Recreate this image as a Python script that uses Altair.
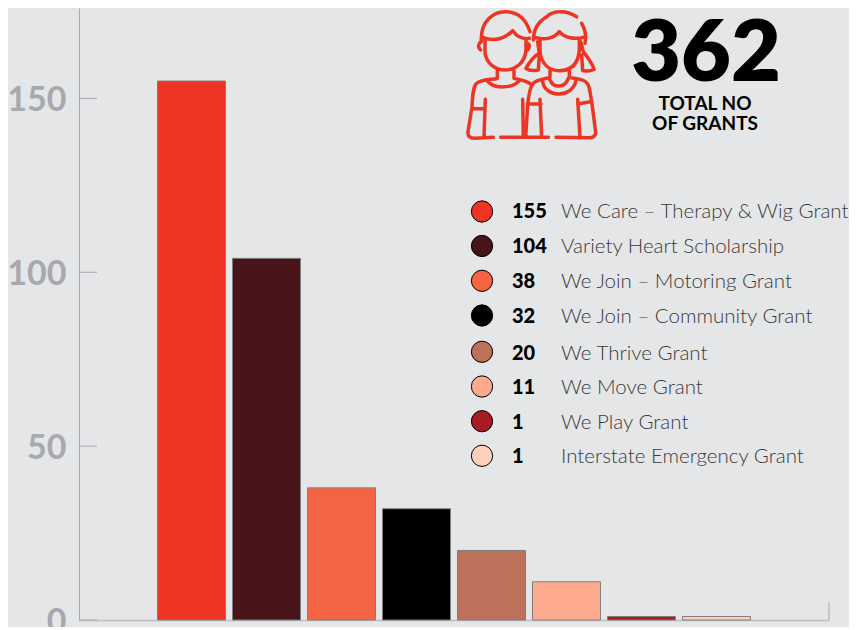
import re
import altair as alt
import pandas as pd

names = ["We Care – Therapy & Wig Grant", "Variety Heart Scholarship", "We Join – Motoring Grant",
         "We Join – Community Grant", "We Thrive Grant", "We Move Grant", "We Play Grant",
         "Interstate Emergency Grant"]
counts = [155, 104, 38, 32, 20, 11, 1, 1]
colors = ["#ee3524", "#47141a", "#f46442", "#000000", "#bd715a", "#fdaa8e", "#a51c24", "#fdd0bc"]
y_ticks = [0, 50, 100, 150]
row_y = [203.5, 238, 272.8, 307.5, 343.8, 378.5, 413.2, 447.8]
text_y = [204, 239, 273.5, 308.5, 345.5, 379.5, 414.5, 448.5]
total = ["362"]
total_caption = ["TOTAL NO", "OF GRANTS"]

BG = "#e5e6e8"
GREY = "#a7a9ac"
RED = "#ee3524"
OX, OY = 79, 8  # page offset of plot origin


def scale_path(path):
    # icon traced on a 3x grid, centred on (275, 225)
    out, i = [], 0
    for tok in re.findall(r"[A-Z]|-?[\d.]+", path):
        if tok.isalpha():
            out.append(tok)
        else:
            c = 275 if i % 2 == 0 else 225
            out.append(f"{(float(tok) - c) / 3:.2f}")
            i += 1
    return " ".join(out)


icon = scale_path(
    "M122 150 C110 140 118 128 124 125 C120 60 165 35 195 35 C225 35 255 50 270 95 "
    "M128 112 C160 125 190 120 218 92 C235 115 250 118 268 115 "
    "M135 115 L135 160 C140 190 165 210 195 210 C225 210 255 190 258 150 L258 118 "
    "M258 130 C270 130 272 145 258 152 "
    "M172 212 L172 235 C160 240 130 235 110 250 C100 260 98 280 96 320 L84 395 C82 408 90 415 105 415 L160 412 "
    "M140 240 C160 270 220 265 240 240 "
    "M222 212 L222 235 C240 240 255 240 272 252 "
    "M136 298 L132 412 M96 326 L135 326 M248 298 L250 412 M182 412 L325 412 "
    "M410 50 C380 30 340 30 320 50 C295 65 280 90 280 120 "
    "M425 70 C437 90 438 115 435 130 "
    "M285 112 C310 120 340 118 358 95 C375 115 405 118 430 112 "
    "M300 115 L300 155 C305 190 325 212 358 212 C395 212 415 190 418 150 L418 118 "
    "M293 125 L298 160 C285 165 265 190 258 205 C270 215 285 212 295 210 L298 165 "
    "M422 125 L430 155 C445 175 460 195 462 208 C450 213 440 215 428 212 L425 165 "
    "M330 212 L330 232 C320 238 295 235 280 250 C270 260 265 285 262 330 L258 395 C255 408 262 412 270 412 "
    "M308 245 C315 295 400 295 408 240 M330 240 C340 265 375 265 385 235 "
    "M388 212 L388 232 C410 238 435 235 445 255 C455 285 460 350 467 395 C468 410 455 415 445 413 L348 412 "
    "M300 298 L305 412 M262 312 L303 312 M413 298 L420 412 M413 312 L450 305"
)

df = pd.DataFrame({"name": names, "count": counts})
color_scale = alt.Scale(domain=names, range=colors)
y_scale = alt.Scale(domain=[0, 176], nice=False, zero=True)
x_domain = [" "] + names + ["  "]
y_axis = alt.Axis(values=y_ticks, ticks=False, grid=False, title=None, domainColor=GREY, domainWidth=1,
                  labelFontSize=34, labelFont="Lato", labelFontWeight=700, labelColor=GREY, labelOffset=2.5,
                  labelPadding=13, labelOverlap=False, labelBound=False, labelFlush=False)

bars = alt.Chart(df).mark_bar(stroke="#7f7f7f", strokeWidth=1).encode(
    x=alt.X("name:N", sort=x_domain,
            scale=alt.Scale(domain=x_domain, paddingInner=0.0933, paddingOuter=0.0467),
            axis=alt.Axis(labels=False, ticks=False, title=None, domainColor="#bcbec0", domainWidth=1.5)),
    y=alt.Y("count:Q", scale=y_scale, axis=y_axis),
    color=alt.Color("name:N", scale=color_scale, legend=None),
)

tick_df = pd.DataFrame({"v": y_ticks})
ticks = alt.Chart(tick_df).mark_rule(color=GREY, strokeWidth=1).encode(
    x=alt.value(0), x2=alt.value(18),
    y=alt.Y("v:Q", scale=y_scale, axis=y_axis),
)
end_tick = alt.Chart(pd.DataFrame({"a": [0], "b": [5]})).mark_rule(color="#bcbec0", strokeWidth=1.5).encode(
    x=alt.value(750),
    y=alt.Y("a:Q", scale=y_scale, axis=y_axis),
    y2="b:Q",
)

layers = [bars, ticks, end_tick]

for i, n in enumerate(names):
    row = df[df["name"] == n]
    layers.append(alt.Chart(row).mark_circle(size=452, opacity=1, stroke="#000000", strokeWidth=1).encode(
        x=alt.value(482 - OX), y=alt.value(row_y[i]),
        color=alt.Color("name:N", scale=color_scale, legend=None)))
    layers.append(alt.Chart(row).mark_text(align="left", baseline="middle", font="Lato", fontSize=20,
                                           fontWeight=900, color="#000000").encode(
        x=alt.value(512 - OX), y=alt.value(text_y[i]), text="count:Q"))
    layers.append(alt.Chart(row).mark_text(align="left", baseline="middle", font="Lato", fontSize=20.5,
                                           fontWeight=300, color="#3a3a3c").encode(
        x=alt.value(561 - OX), y=alt.value(text_y[i]), text="name:N"))

layers.append(alt.Chart(pd.DataFrame({"t": total})).mark_text(
    align="center", baseline="middle", font="Lato", fontSize=86, fontWeight=800, color="#000000").encode(
    x=alt.value(706 - OX), y=alt.value(55 - OY), text="t:N"))
for cap, yv in zip(total_caption, [96, 116]):
    layers.append(alt.Chart(pd.DataFrame({"t": [cap]})).mark_text(
        align="center", baseline="middle", font="Lato", fontSize=19, fontWeight=700, color="#000000").encode(
        x=alt.value(705 - OX), y=alt.value(yv), text="t:N"))

layers.append(alt.Chart(pd.DataFrame({"k": ["icon"]})).mark_point(
    shape=icon, size=4, filled=False, stroke=RED, strokeWidth=3.5, strokeCap="round", strokeJoin="round", opacity=1
).encode(x=alt.value(531.67 - OX), y=alt.value(75 - OY)))

layers.append(alt.Chart(pd.DataFrame({"k": ["corner"]})).mark_point(
    shape="M -6 -6 L 12 -6 L 12 12 Z", size=4, filled=True, fill="#ffffff", stroke=None, opacity=1
).encode(x=alt.value(851 - OX), y=alt.value(6 - OY)))

chart = alt.layer(*layers).properties(
    width=750, height=612, background=BG,
    padding={"left": 71, "top": 0, "right": 20, "bottom": 7},
    autosize=alt.AutoSizeParams(type="none"),
).configure_view(stroke=None)

chart.save("out.html", embed_options={"renderer": "svg", "actions": False})
